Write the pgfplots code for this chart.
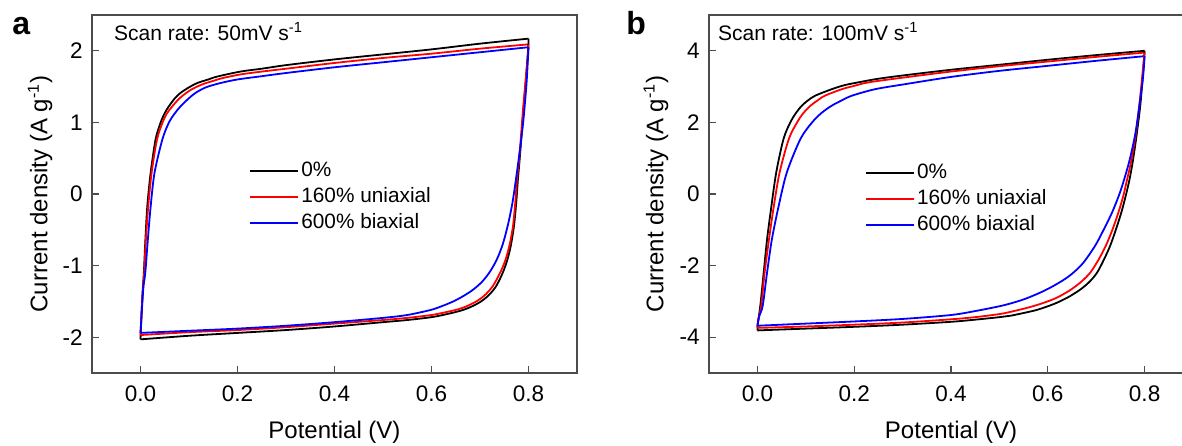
\documentclass[border=0pt]{standalone}
\usepackage{pgfplots}
\pgfplotsset{compat=1.18}
\usepackage{fontspec}
\setmainfont{Liberation Sans}
\begin{document}
\begin{tikzpicture}[x=0.5pt,y=0.5pt]
\path[use as bounding box, clip] (0,0) rectangle (1182,445);
\pgfplotsset{
  cvbase/.style={
    scale only axis, height=179pt,
    xmin=-0.1, xmax=0.9,
    xtick={0,0.2,0.4,0.6,0.8},
    /pgf/number format/assume math mode=true,
    x tick label style={/pgf/number format/.cd,fixed,fixed zerofill,precision=1,/tikz/.cd,yshift=-2.75pt},
    y tick label style={xshift=-1.2pt},
    tick label style={font=\fontsize{11.25}{13}\selectfont, text=black},
    tick align=inside, tick pos=left, major tick length=3.5pt,
    axis line style={draw=black!70, line width=0.6pt},
    major tick style={draw=black!70, line width=0.6pt},
    xlabel={Potential (V)},
    ylabel={Current density (A g\textsuperscript{-1})},
    every axis x label/.style={at={(axis description cs:0.5,-0.182)}, anchor=base, font=\fontsize{12}{14}\selectfont},
    every axis y label/.style={at={(axis description cs:-0.107,0.5)}, rotate=90, anchor=center, font=\fontsize{12}{14}\selectfont},
    legend cell align=left,
    legend image code/.code={\draw[##1] (0pt,0pt) -- (24pt,0pt);},
    every axis plot/.append style={line width=0.9pt, line join=round, smooth, tension=0.5},
  }
}
% ---------------- panel a ----------------
\begin{axis}[cvbase, width=242.5pt, at={(46pt,36pt)}, anchor=south west,
  ymin=-2.5, ymax=2.5, ytick={-2,-1,0,1,2},
  legend style={at={(0.324,0.60)}, anchor=north west, draw=none, fill=none,
    font=\fontsize{10.4}{12}\selectfont, row sep=1pt, inner sep=0pt,
    nodes={inner sep=1pt, text height=8pt, text depth=2pt}}]
% charge branches
\addplot[black] coordinates {
(0.000,-2.03) (0.002,-1.70) (0.004,-1.40) (0.007,-1.09) (0.010,-0.65) (0.014,-0.17)
(0.021,0.30) (0.031,0.76) (0.041,0.99) (0.050,1.13) (0.058,1.22) (0.070,1.33)
(0.082,1.41) (0.100,1.49) (0.117,1.55) (0.140,1.60) (0.158,1.64) (0.206,1.71)
(0.250,1.75) (0.300,1.80) (0.400,1.88) (0.500,1.95) (0.600,2.02) (0.700,2.10) (0.800,2.17)};
\addlegendentry{0\%}
\addplot[red] coordinates {
(0.000,-1.97) (0.002,-1.68) (0.005,-1.35) (0.008,-1.05) (0.011,-0.65) (0.016,-0.17)
(0.023,0.30) (0.034,0.76) (0.045,0.99) (0.054,1.12) (0.065,1.22) (0.078,1.32)
(0.090,1.39) (0.105,1.46) (0.127,1.53) (0.150,1.58) (0.170,1.62) (0.206,1.67)
(0.250,1.71) (0.300,1.75) (0.400,1.83) (0.500,1.90) (0.600,1.96) (0.700,2.03) (0.800,2.09)};
\addlegendentry{160\% uniaxial}
\addplot[blue] coordinates {
(0.000,-1.94) (0.003,-1.60) (0.006,-1.30) (0.010,-1.09) (0.015,-0.65) (0.021,-0.17)
(0.029,0.30) (0.045,0.76) (0.058,0.99) (0.070,1.12) (0.082,1.22) (0.097,1.32)
(0.113,1.41) (0.135,1.49) (0.165,1.55) (0.200,1.60) (0.244,1.64) (0.300,1.69)
(0.400,1.77) (0.500,1.84) (0.600,1.91) (0.700,1.98) (0.800,2.05)};
\addlegendentry{600\% biaxial}
% discharge branches
\addplot[black, forget plot] coordinates {
(0.800,2.17) (0.799,2.00) (0.790,1.20) (0.782,0.50) (0.778,0.19) (0.775,-0.10) (0.770,-0.45)
(0.763,-0.74) (0.755,-0.95) (0.745,-1.13) (0.732,-1.30) (0.717,-1.42) (0.700,-1.51)
(0.680,-1.58) (0.660,-1.63) (0.630,-1.68) (0.600,-1.72) (0.550,-1.76) (0.500,-1.79)
(0.400,-1.85) (0.300,-1.90) (0.200,-1.94) (0.100,-1.98) (0.000,-2.03)};
\addplot[red, forget plot] coordinates {
(0.800,2.09) (0.799,1.95) (0.789,1.20) (0.781,0.50) (0.776,0.19) (0.773,-0.10) (0.768,-0.45)
(0.760,-0.74) (0.751,-0.95) (0.740,-1.12) (0.727,-1.28) (0.712,-1.40) (0.695,-1.49)
(0.675,-1.56) (0.655,-1.61) (0.630,-1.65) (0.600,-1.69) (0.550,-1.73) (0.500,-1.76)
(0.400,-1.81) (0.300,-1.86) (0.200,-1.90) (0.100,-1.93) (0.000,-1.97)};
\addplot[blue, forget plot] coordinates {
(0.800,2.05) (0.796,1.55) (0.789,1.00) (0.781,0.55) (0.774,0.20) (0.767,-0.12) (0.758,-0.42)
(0.747,-0.70) (0.735,-0.91) (0.721,-1.08) (0.705,-1.22) (0.687,-1.33) (0.667,-1.42)
(0.645,-1.50) (0.620,-1.57) (0.598,-1.62) (0.550,-1.69) (0.500,-1.73) (0.400,-1.79)
(0.300,-1.84) (0.200,-1.88) (0.100,-1.91) (0.000,-1.94)};
\node[anchor=base west, inner sep=0pt, font=\fontsize{10.5}{12}\selectfont] at (rel axis cs:0.045,0.93) {Scan rate: 50mV s\textsuperscript{-1}};
\end{axis}
% ---------------- panel b ----------------
\begin{axis}[cvbase, width=242pt, at={(354.5pt,36pt)}, anchor=south west,
  ymin=-5, ymax=5, ytick={-4,-2,0,2,4},
  every axis y label/.style={at={(axis description cs:-0.1095,0.5)}, rotate=90, anchor=center, font=\fontsize{12}{14}\selectfont},
  legend style={at={(0.322,0.594)}, anchor=north west, draw=none, fill=none,
    font=\fontsize{10.4}{12}\selectfont, row sep=1pt, inner sep=0pt,
    nodes={inner sep=1pt, text height=8pt, text depth=2pt}}]
\addplot[black] coordinates {
(0.000,-3.81) (0.001,-3.60) (0.006,-3.12) (0.013,-2.19) (0.020,-1.26) (0.029,-0.33)
(0.039,0.61) (0.054,1.54) (0.068,2.00) (0.080,2.27) (0.092,2.47) (0.105,2.62)
(0.120,2.75) (0.154,2.93) (0.180,3.04) (0.209,3.12) (0.250,3.22) (0.306,3.32)
(0.400,3.47) (0.500,3.61) (0.600,3.75) (0.700,3.88) (0.800,4.00)};
\addlegendentry{0\%}
\addplot[red] coordinates {
(0.000,-3.74) (0.002,-3.50) (0.008,-3.12) (0.015,-2.19) (0.024,-1.26) (0.034,-0.33)
(0.046,0.61) (0.065,1.54) (0.082,2.00) (0.095,2.26) (0.110,2.47) (0.125,2.62)
(0.140,2.75) (0.175,2.93) (0.200,3.02) (0.230,3.12) (0.306,3.26) (0.400,3.42)
(0.500,3.57) (0.600,3.70) (0.700,3.83) (0.800,3.95)};
\addlegendentry{160\% uniaxial}
\addplot[blue] coordinates {
(0.000,-3.68) (0.004,-3.40) (0.011,-3.12) (0.020,-2.19) (0.030,-1.26) (0.044,-0.33)
(0.061,0.61) (0.089,1.54) (0.113,2.00) (0.133,2.27) (0.154,2.47) (0.175,2.62)
(0.196,2.75) (0.244,2.93) (0.306,3.07) (0.400,3.27) (0.500,3.44) (0.600,3.58)
(0.700,3.72) (0.800,3.85)};
\addlegendentry{600\% biaxial}
\addplot[black, forget plot] coordinates {
(0.800,4.00) (0.799,3.80) (0.792,2.60) (0.784,1.70) (0.776,0.95) (0.769,0.42) (0.761,-0.05)
(0.752,-0.51) (0.741,-0.98) (0.729,-1.44) (0.716,-1.83) (0.702,-2.19) (0.687,-2.44)
(0.669,-2.65) (0.645,-2.86) (0.620,-3.03) (0.595,-3.16) (0.571,-3.26) (0.523,-3.40)
(0.500,-3.44) (0.450,-3.51) (0.400,-3.57) (0.300,-3.65) (0.200,-3.71) (0.100,-3.76) (0.000,-3.81)};
\addplot[red, forget plot] coordinates {
(0.800,3.95) (0.798,3.70) (0.790,2.60) (0.782,1.70) (0.772,0.90) (0.764,0.42) (0.756,-0.05)
(0.746,-0.51) (0.734,-0.98) (0.720,-1.44) (0.705,-1.83) (0.688,-2.19) (0.670,-2.44)
(0.650,-2.65) (0.632,-2.80) (0.613,-2.93) (0.587,-3.06) (0.560,-3.17) (0.530,-3.27)
(0.502,-3.35) (0.450,-3.44) (0.400,-3.50) (0.300,-3.59) (0.200,-3.65) (0.100,-3.70) (0.000,-3.74)};
\addplot[blue, forget plot] coordinates {
(0.800,3.85) (0.797,3.30) (0.791,2.65) (0.781,1.70) (0.769,0.95) (0.758,0.42) (0.748,0.00)
(0.733,-0.51) (0.716,-0.98) (0.698,-1.44) (0.674,-1.91) (0.655,-2.17) (0.636,-2.37)
(0.610,-2.58) (0.585,-2.75) (0.555,-2.92) (0.530,-3.03) (0.502,-3.13) (0.450,-3.27)
(0.400,-3.38) (0.300,-3.49) (0.200,-3.56) (0.100,-3.62) (0.000,-3.68)};
\node[anchor=base west, inner sep=0pt, font=\fontsize{10.5}{12}\selectfont] at (rel axis cs:0.018,0.93) {Scan rate: 100mV s\textsuperscript{-1}};
\end{axis}
\node[anchor=base west, inner sep=0pt, font=\bfseries\fontsize{16}{18}\selectfont] at (12,410) {a};
\node[anchor=base west, inner sep=0pt, font=\bfseries\fontsize{16}{18}\selectfont] at (626,410) {b};
\end{tikzpicture}
\end{document}
